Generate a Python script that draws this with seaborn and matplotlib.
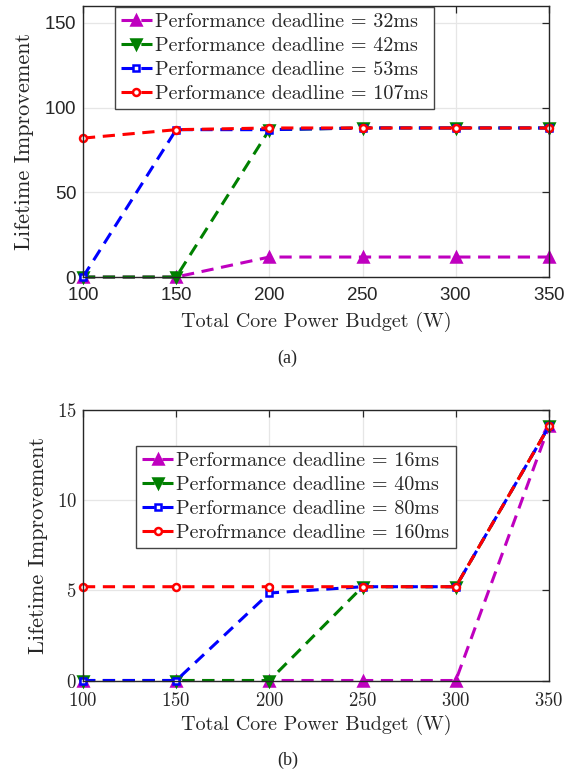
import matplotlib
matplotlib.use("Agg")
import matplotlib.pyplot as plt
import seaborn as sns
import pandas as pd

# Power budgets (W) shared by both panels
budgets = [100, 150, 200, 250, 300, 350]

# Panel (a): lifetime improvement per performance deadline
labels_a = ["Performance deadline = 32ms", "Performance deadline = 42ms",
            "Performance deadline = 53ms", "Performance deadline = 107ms"]
a_32 = [0, 0, 11.8, 11.8, 11.8, 11.8]
a_42 = [0, 0, 87, 88, 88, 88]
a_53 = [0, 87, 87, 88, 88, 88]
a_107 = [82, 87, 88, 88, 88, 88]

# Panel (b)
labels_b = ["Performance deadline = 16ms", "Performance deadline = 40ms",
            "Performance deadline = 80ms", "Perofrmance deadline = 160ms"]
b_16 = [0, 0, 0, 0, 0, 14.1]
b_40 = [0, 0, 0, 5.2, 5.2, 14.1]
b_80 = [0, 0, 4.85, 5.2, 5.2, 14.1]
b_160 = [5.2, 5.2, 5.2, 5.2, 5.2, 14.1]

yticks_a = [0, 50, 100, 150]
yticks_b = [0, 5, 10, 15]

sns.set_theme(style="whitegrid")
plt.rcParams.update({
    "axes.edgecolor": "#262626",
    "axes.linewidth": 1.0,
    "grid.color": "#e6e6e6",
    "grid.linewidth": 0.9,
    "xtick.direction": "in",
    "ytick.direction": "in",
    "xtick.top": True,
    "ytick.right": True,
    "xtick.major.size": 5,
    "ytick.major.size": 5,
    "xtick.major.width": 0.9,
    "ytick.major.width": 0.9,
    "xtick.color": "#262626",
    "ytick.color": "#262626",
    "text.color": "#262626",
    "axes.labelcolor": "#262626",
    "axes.formatter.use_mathtext": True,
})

styles = [
    dict(color="#bf00bf", marker="^", mfc="#bf00bf", ms=6.5),
    dict(color="#008000", marker="v", mfc="#008000", ms=6.5),
    dict(color="#0000ff", marker="s", mfc="white", ms=4.5),
    dict(color="#ff0000", marker="o", mfc="white", ms=5),
]

serif = "cmr10"
label_size = 14.5

fig = plt.figure(figsize=(5.75, 7.74), dpi=100)
ax_a = fig.add_axes([0.1443, 0.6421, 0.8105, 0.3501])
ax_b = fig.add_axes([0.1443, 0.1208, 0.8105, 0.3495])


def draw(ax, series, labels):
    for vals, lab, st in zip(series, labels, styles):
        df = pd.DataFrame({"budget": budgets, "improvement": vals})
        sns.lineplot(data=df, x="budget", y="improvement", ax=ax,
                     color=st["color"], marker=st["marker"],
                     markersize=st["ms"], markerfacecolor=st["mfc"],
                     markeredgecolor=st["color"], markeredgewidth=1.8,
                     linestyle=(0, (4, 2.5)), linewidth=2.2, label=lab,
                     clip_on=False, zorder=3)
    ax.set_xlim(100, 350)
    ax.set_xticks(budgets)
    ax.set_xlabel("Total Core Power Budget (W)", fontfamily=serif,
                  fontsize=label_size, va="center")
    ax.set_ylabel("Lifetime Improvement", fontfamily=serif,
                  fontsize=16, va="center")
    for s in ax.spines.values():
        s.set_color("#262626")
        s.set_zorder(4)


draw(ax_a, [a_32, a_42, a_53, a_107], labels_a)
ax_a.set_ylim(0, 160)
ax_a.set_yticks(yticks_a)
for t in ax_a.get_xticklabels() + ax_a.get_yticklabels():
    t.set_fontfamily("Liberation Sans")
    t.set_fontsize(13.5)
ax_a.tick_params(axis="x", pad=7.5)
ax_a.tick_params(axis="y", pad=4.5)
ax_a.xaxis.set_label_coords(0.5, -0.166)
ax_a.yaxis.set_label_coords(-0.125, 0.5)

draw(ax_b, [b_16, b_40, b_80, b_160], labels_b)
ax_b.set_ylim(0, 15)
ax_b.set_yticks(yticks_b)
for t in ax_b.get_xticklabels() + ax_b.get_yticklabels():
    t.set_fontfamily(serif)
    t.set_fontsize(13.5)
ax_b.tick_params(axis="x", pad=8)
ax_b.tick_params(axis="y", pad=4.5)
ax_b.xaxis.set_label_coords(0.5, -0.165)
ax_b.yaxis.set_label_coords(-0.095, 0.5)

for ax, anchor in ((ax_a, (0.068, 0.998)), (ax_b, (0.114, 0.868))):
    leg = ax.legend(loc="upper left", bbox_to_anchor=anchor, borderaxespad=0,
                    prop={"family": serif, "size": label_size}, frameon=True,
                    fancybox=False, framealpha=1, edgecolor="#444444",
                    handlelength=1.55, handletextpad=0.15, labelspacing=0.3,
                    borderpad=0.3, numpoints=1)
    leg.get_frame().set_linewidth(1.0)

fig.text(0.5, 1 - 358 / 774, "(a)", ha="center", va="center",
         fontfamily="Liberation Serif", fontsize=13)
fig.text(0.5, 1 - 760 / 774, "(b)", ha="center", va="center",
         fontfamily="Liberation Serif", fontsize=13)

fig.savefig("out.png", dpi=100)
